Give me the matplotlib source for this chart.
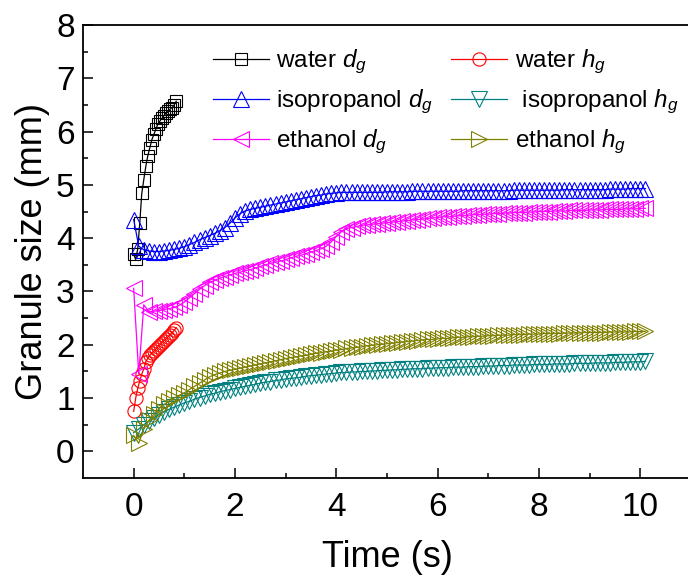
import numpy as np
import matplotlib.pyplot as plt

plt.rcParams['font.family'] = ['Liberation Sans', 'DejaVu Sans']
plt.rcParams['mathtext.fontset'] = 'custom'
plt.rcParams['mathtext.rm'] = 'Liberation Sans'
plt.rcParams['mathtext.it'] = 'Liberation Sans:italic'

# water runs were recorded at 0.04 s per frame, the others resampled at 0.1 s
dt_water = 0.04
dt_long = 0.1

water_dg = [3.70, 3.60, 3.80, 4.28, 4.84, 5.10, 5.35, 5.55, 5.70, 5.85, 5.95,
            6.05, 6.15, 6.20, 6.25, 6.30, 6.35, 6.38, 6.42, 6.45, 6.50, 6.57]
water_hg = [0.75, 1.00, 1.18, 1.32, 1.45, 1.55, 1.68, 1.75, 1.80, 1.85, 1.88,
            1.92, 1.96, 2.00, 2.04, 2.08, 2.11, 2.15, 2.19, 2.23, 2.27, 2.32]

iso_dg = [4.35, 3.85, 3.78, 3.76, 3.75, 3.75, 3.76, 3.77, 3.79, 3.81,
          3.84, 3.88, 3.92, 3.97, 4.01, 4.05, 4.09, 4.14, 4.20, 4.28,
          4.38, 4.46, 4.51, 4.54, 4.56, 4.58, 4.60, 4.62, 4.64, 4.66,
          4.68, 4.70, 4.72, 4.74, 4.76, 4.78, 4.80, 4.81, 4.83, 4.84,
          4.85, 4.86, 4.86, 4.86, 4.86, 4.86, 4.86, 4.86, 4.86, 4.86,
          4.87, 4.87, 4.87, 4.87, 4.87, 4.88, 4.88, 4.88, 4.88, 4.88,
          4.88, 4.88, 4.88, 4.88, 4.88, 4.89, 4.89, 4.89, 4.89, 4.89,
          4.89, 4.89, 4.89, 4.89, 4.89, 4.90, 4.90, 4.90, 4.90, 4.90,
          4.90, 4.90, 4.90, 4.90, 4.90, 4.91, 4.91, 4.91, 4.91, 4.91,
          4.91, 4.91, 4.91, 4.91, 4.92, 4.92, 4.92, 4.92, 4.93, 4.93,
          4.93, 4.93]
iso_hg = [0.35, 0.42, 0.50, 0.57, 0.63, 0.69, 0.74, 0.79, 0.83, 0.87,
          0.91, 0.94, 0.98, 1.01, 1.04, 1.07, 1.09, 1.12, 1.14, 1.16,
          1.18, 1.20, 1.22, 1.24, 1.26, 1.28, 1.30, 1.31, 1.33, 1.34,
          1.36, 1.37, 1.38, 1.39, 1.41, 1.42, 1.43, 1.44, 1.45, 1.46,
          1.47, 1.48, 1.48, 1.49, 1.49, 1.50, 1.50, 1.51, 1.51, 1.52,
          1.52, 1.53, 1.53, 1.54, 1.54, 1.55, 1.55, 1.55, 1.56, 1.56,
          1.57, 1.57, 1.57, 1.58, 1.58, 1.58, 1.59, 1.59, 1.59, 1.60,
          1.60, 1.60, 1.61, 1.61, 1.61, 1.62, 1.62, 1.62, 1.62, 1.63,
          1.63, 1.63, 1.63, 1.64, 1.64, 1.64, 1.64, 1.65, 1.65, 1.65,
          1.65, 1.66, 1.66, 1.66, 1.66, 1.67, 1.67, 1.67, 1.68, 1.68,
          1.68, 1.69]
eth_dg = [3.06, 1.45, 2.75, 2.62, 2.63, 2.64, 2.66, 2.68, 2.70, 2.74,
          2.80, 2.88, 2.96, 3.04, 3.11, 3.17, 3.21, 3.25, 3.28, 3.31,
          3.34, 3.36, 3.39, 3.41, 3.44, 3.47, 3.50, 3.53, 3.55, 3.57,
          3.60, 3.63, 3.66, 3.68, 3.71, 3.74, 3.77, 3.80, 3.85, 3.93,
          4.03, 4.12, 4.18, 4.20, 4.22, 4.24, 4.25, 4.26, 4.27, 4.28,
          4.29, 4.30, 4.31, 4.32, 4.33, 4.34, 4.35, 4.36, 4.37, 4.38,
          4.39, 4.40, 4.40, 4.41, 4.42, 4.42, 4.43, 4.44, 4.44, 4.45,
          4.45, 4.46, 4.46, 4.47, 4.47, 4.48, 4.48, 4.48, 4.49, 4.49,
          4.50, 4.50, 4.50, 4.51, 4.51, 4.51, 4.52, 4.52, 4.52, 4.52,
          4.53, 4.53, 4.53, 4.54, 4.54, 4.54, 4.54, 4.55, 4.55, 4.55,
          4.56, 4.56]
eth_hg = [0.30, 0.15, 0.42, 0.58, 0.70, 0.80, 0.88, 0.95, 1.00, 1.05,
          1.10, 1.16, 1.22, 1.28, 1.34, 1.40, 1.44, 1.47, 1.50, 1.52,
          1.54, 1.56, 1.58, 1.60, 1.62, 1.64, 1.66, 1.68, 1.70, 1.72,
          1.74, 1.76, 1.77, 1.79, 1.80, 1.82, 1.84, 1.85, 1.87, 1.88,
          1.90, 1.91, 1.93, 1.94, 1.95, 1.96, 1.98, 1.99, 2.00, 2.01,
          2.02, 2.03, 2.04, 2.05, 2.06, 2.07, 2.08, 2.09, 2.10, 2.10,
          2.11, 2.12, 2.12, 2.13, 2.14, 2.14, 2.15, 2.15, 2.16, 2.16,
          2.17, 2.17, 2.18, 2.18, 2.18, 2.19, 2.19, 2.19, 2.20, 2.20,
          2.20, 2.21, 2.21, 2.21, 2.21, 2.22, 2.22, 2.22, 2.22, 2.23,
          2.23, 2.23, 2.23, 2.23, 2.24, 2.24, 2.24, 2.24, 2.24, 2.25,
          2.25, 2.25]

series = [
    ('water $d_g$', water_dg, dt_water, 's', 'black', 8.5),
    ('water $h_g$', water_hg, dt_water, 'o', 'red', 9.5),
    ('isopropanol $d_g$', iso_dg, dt_long, '^', 'blue', 11),
    (' isopropanol $h_g$', iso_hg, dt_long, 'v', '#008080', 11),
    ('ethanol $d_g$', eth_dg, dt_long, '<', 'magenta', 11),
    ('ethanol $h_g$', eth_hg, dt_long, '>', '#808000', 11),
]

fig = plt.figure(figsize=(6.88, 5.85), dpi=100)
ax = fig.add_axes([83 / 688, 1 - 478 / 585, 608 / 688, 453 / 585])

handles = {}
for label, vals, dt, mk, col, ms in series:
    t = np.arange(len(vals)) * dt
    h, = ax.plot(t, vals, color=col, lw=0.9, marker=mk, ms=ms,
                 mfc='none', mec=col, mew=0.8, label=label)
    handles[label] = h

ax.set_xlim(-1, 11)
ax.set_ylim(-0.5, 8)
ax.set_xticks([0, 2, 4, 6, 8, 10])
ax.set_xticks([1, 3, 5, 7, 9], minor=True)
ax.set_yticks(range(0, 9))
ax.set_yticks(np.arange(0.5, 8, 1), minor=True)
ax.tick_params(which='both', direction='in', top=False, right=False,
               labelsize=24, width=1.1)
ax.tick_params(which='major', length=7)
ax.tick_params(axis='x', which='major', pad=10)
ax.tick_params(axis='y', which='major', pad=6)
ax.tick_params(which='minor', length=3.5)
for sp in ax.spines.values():
    sp.set_linewidth(1.3)

ax.set_xlabel('Time (s)', fontsize=26, labelpad=12)
ax.set_ylabel('Granule size (mm)', fontsize=26, labelpad=4)

order = ['water $d_g$', 'isopropanol $d_g$', 'ethanol $d_g$',
         'water $h_g$', ' isopropanol $h_g$', 'ethanol $h_g$']
ax.legend([handles[k] for k in order], order, ncol=2, frameon=False,
          fontsize=17.5, loc='upper left', bbox_to_anchor=(0.214, 0.95),
          handlelength=2.3, handletextpad=0.3, columnspacing=0.75,
          labelspacing=0.48, borderpad=0, borderaxespad=0)

fig.savefig('out.png', dpi=100)
